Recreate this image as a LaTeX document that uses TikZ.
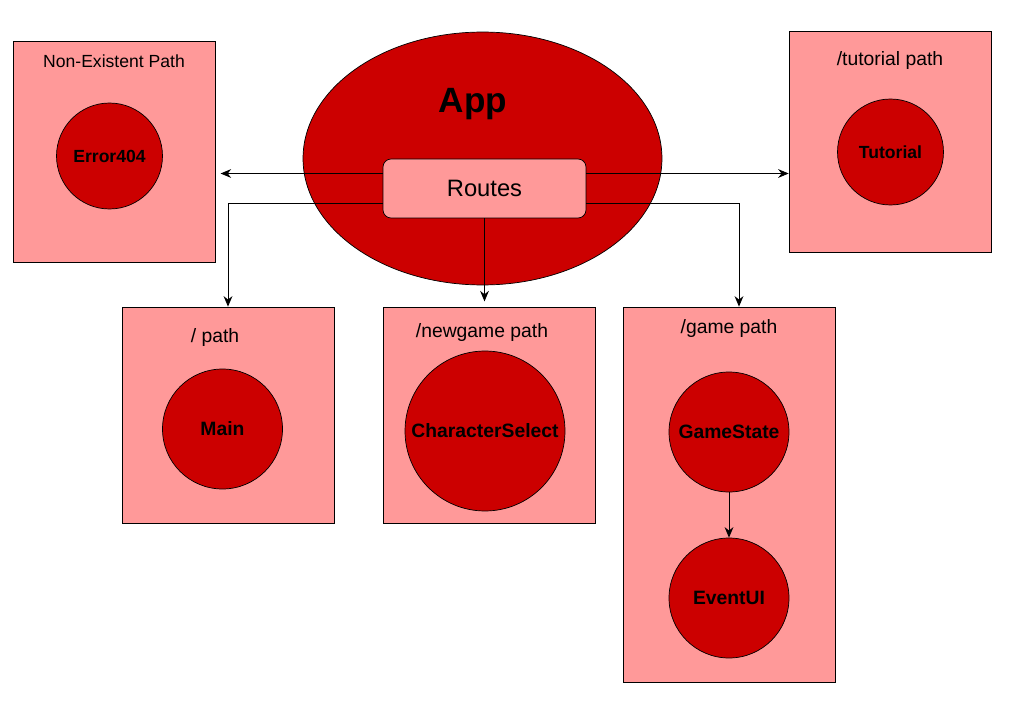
\documentclass[tikz,border=0pt]{standalone}
\usepackage{fontspec}
\setmainfont{Liberation Sans}
\usetikzlibrary{shapes.geometric,arrows.meta}
\definecolor{darkred}{HTML}{CC0000}
\definecolor{lightred}{HTML}{FF9999}
\tikzstyle{pathbox} = [draw=black, fill=lightred, rectangle, inner sep=0pt]
\tikzstyle{comp} = [draw=black, fill=darkred, circle, inner sep=0pt, font=\bfseries\fontsize{11}{13}\selectfont]
\tikzstyle{title} = [font=\fontsize{11}{13}\selectfont, inner sep=0pt]
\tikzstyle{conn} = [draw=black, line width=0.5pt, -{Stealth[length=6pt,width=5pt]}]

\begin{document}
\begin{tikzpicture}[x=0.02cm, y=-0.02cm]
		\useasboundingbox (0,0) rectangle (1015,706);
		% app with its router
		\node [draw=black, fill=darkred, ellipse, minimum width=7.18cm, minimum height=5.06cm] (app) at (482.5,158.5) {};
		\node [inner sep=0pt, font=\bfseries\fontsize{20}{24}\selectfont] (apptitle) at (473,104) {App};
		\node [draw=black, fill=lightred, rectangle, rounded corners=0.16cm, minimum width=4.06cm, minimum height=1.18cm, font=\fontsize{13.5}{16}\selectfont] (routes) at (484.5,188.5) {Routes};
		
		% non existent path
		\node [pathbox, minimum width=4.04cm, minimum height=4.42cm] (errbox) at (114,151.5) {};
		\node [title, font=\fontsize{10}{12}\selectfont] (errtitle) at (114,61) {Non-Existent Path};
		\node [comp, minimum size=2.12cm, font=\bfseries\fontsize{10}{12}\selectfont] (error) at (109.5,156) {Error404};
		
		% tutorial path
		\node [pathbox, minimum width=4.04cm, minimum height=4.42cm] (tutbox) at (890,141.5) {};
		\node [title] (tuttitle) at (890,61) {/tutorial path};
		\node [comp, minimum size=2.12cm, font=\bfseries\fontsize{10}{12}\selectfont] (tutorial) at (890.5,152) {Tutorial};
		
		% root path
		\node [pathbox, minimum width=4.24cm, minimum height=4.32cm] (rootbox) at (228,415) {};
		\node [title] (roottitle) at (215,338) {/ path};
		\node [comp, minimum size=2.4cm] (main) at (222.5,429) {Main};
		
		% newgame path
		\node [pathbox, minimum width=4.24cm, minimum height=4.32cm] (newbox) at (489,415) {};
		\node [title] (newtitle) at (482,333) {/newgame path};
		\node [comp, minimum size=3.2cm] (charsel) at (485,431) {CharacterSelect};
		
		% game path
		\node [pathbox, minimum width=4.24cm, minimum height=7.5cm] (gamebox) at (729,494.5) {};
		\node [title] (gametitle) at (729,329) {/game path};
		\node [comp, minimum size=2.4cm] (gamestate) at (729,432) {GameState};
		\node [comp, minimum size=2.4cm] (eventui) at (729,598) {EventUI};
		
		\coordinate (lup) at ([yshift=0.3cm]routes.west);
		\coordinate (llow) at ([yshift=-0.3cm]routes.west);
		\coordinate (rup) at ([yshift=0.3cm]routes.east);
		\coordinate (rlow) at ([yshift=-0.3cm]routes.east);
		\coordinate (gametop) at ([xshift=0.2cm]gamebox.north);
		
		\draw [conn, shorten >=3pt] (lup) -- (lup -| errbox.east);
		\draw [conn] (llow) -| (rootbox.north);
		\draw [conn, shorten >=3pt] (routes.south) -- (routes.south |- newbox.north);
		\draw [conn] (rup) -- (rup -| tutbox.west);
		\draw [conn] (rlow) -| (gametop);
		\draw [conn] (gamestate) -- (eventui);
\end{tikzpicture}
\end{document}
